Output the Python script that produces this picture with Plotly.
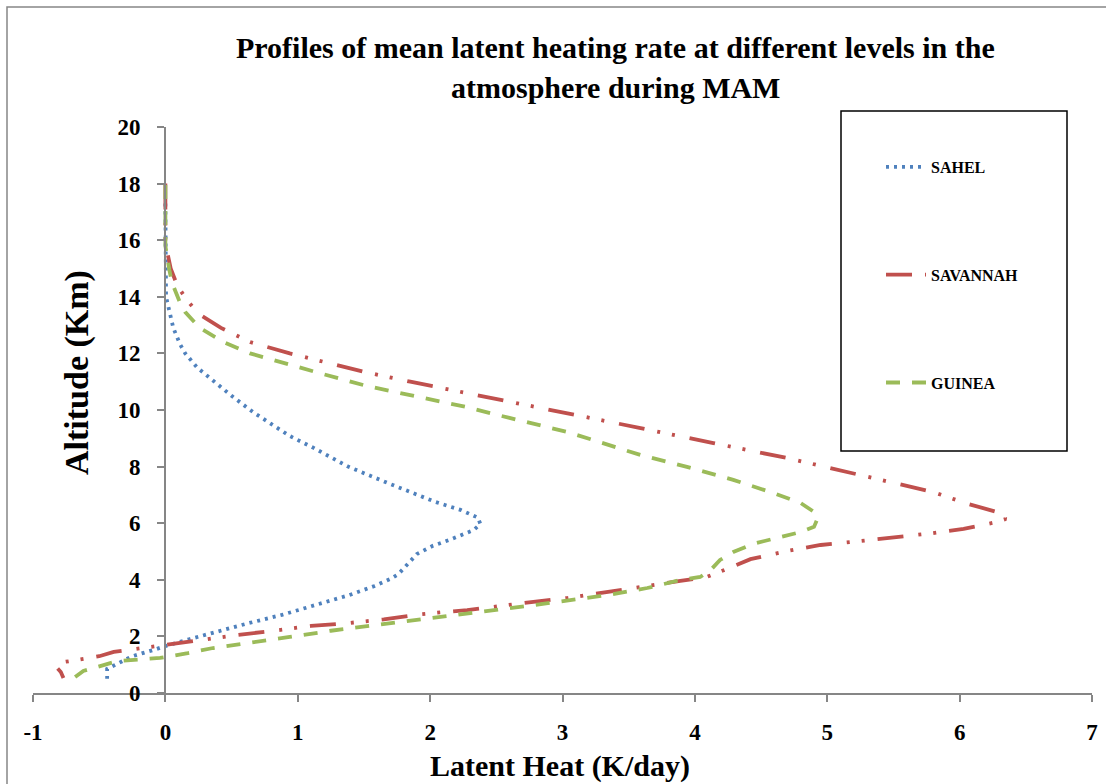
import plotly.graph_objects as go

# ---- data ----
sahel_alt = [17.3, 16.5, 15.5, 15.0, 14.5, 14.0, 13.6, 12.9, 12.33, 12.0, 11.5, 11.3, 10.5, 9.9, 9.08, 8.66,
             8.0, 7.42, 7.1, 6.75, 6.47, 6.2, 5.97, 5.76, 5.4, 5.2, 4.91, 4.66, 4.42, 4.2, 4.03, 3.78,
             3.46, 3.1, 2.76, 2.47, 2.16, 1.9, 1.63, 1.55, 1.3, 1.0, 0.85, 0.5]
sahel_lh = [0.0, 0.0, 0.0, 0.0, 0.003, 0.005, 0.025, 0.06, 0.11, 0.15, 0.24, 0.29, 0.5, 0.67, 0.94, 1.12,
            1.38, 1.68, 1.85, 2.04, 2.23, 2.36, 2.38, 2.33, 2.14, 2.02, 1.9, 1.85, 1.8, 1.76, 1.7, 1.58,
            1.39, 1.14, 0.88, 0.63, 0.37, 0.18, -0.02, -0.07, -0.25, -0.38, -0.44, -0.44]

savannah_alt = [18.0, 17.2, 15.9, 15.0, 14.4, 13.9, 13.4, 12.9, 12.4, 12.0, 11.7, 11.35, 11.0, 10.6, 10.35,
                10.1, 9.89, 9.36, 8.83, 8.3, 7.7, 7.1, 6.7, 6.4, 6.15, 6.04, 5.8, 5.65, 5.37, 5.23, 5.02,
                4.73, 4.38, 4.1, 3.96, 3.75, 3.53, 3.36, 3.22, 3.04, 2.93, 2.79, 2.6, 2.47, 2.37, 2.2,
                2.05, 1.87, 1.73, 1.63, 1.57, 1.45, 1.3, 1.2, 1.06, 0.95, 0.74, 0.53]
savannah_lh = [0.0, 0.0, 0.0, 0.04, 0.09, 0.16, 0.25, 0.42, 0.64, 0.94, 1.19, 1.5, 1.85, 2.28, 2.53,
               2.83, 3.04, 3.59, 4.14, 4.7, 5.25, 5.8, 6.05, 6.28, 6.35, 6.28, 6.03, 5.8, 5.25, 4.95, 4.7,
               4.42, 4.24, 4.09, 3.89, 3.59, 3.29, 3.04, 2.78, 2.5, 2.28, 1.94, 1.65, 1.38, 1.1, 0.82,
               0.54, 0.27, 0.05, -0.07, -0.21, -0.39, -0.5, -0.63, -0.81, -0.83, -0.79, -0.77]

guinea_alt = [17.95, 16.5, 15.8, 14.95, 14.5, 13.8, 13.46, 12.9, 12.4, 12.0, 11.66, 11.27, 10.85, 10.46,
              10.1, 9.8, 9.47, 9.22, 8.41, 7.99, 7.53, 7.07, 6.71, 6.4, 6.2, 5.87, 5.69, 5.48, 5.27, 4.98,
              4.7, 4.35, 4.1, 3.99, 3.71, 3.46, 3.22, 3.07, 2.95, 2.82, 2.69, 2.54, 2.37, 2.2, 1.98,
              1.73, 1.59, 1.41, 1.24, 1.13, 0.78, 0.5]
guinea_lh = [0.0, 0.0, 0.0, 0.03, 0.05, 0.11, 0.15, 0.26, 0.44, 0.64, 0.89, 1.19, 1.52, 1.9,
             2.28, 2.53, 2.81, 3.04, 3.59, 3.94, 4.29, 4.59, 4.8, 4.9, 4.93, 4.9, 4.8, 4.62, 4.44, 4.29,
             4.19, 4.12, 4.04, 3.89, 3.64, 3.34, 2.98, 2.73, 2.52, 2.3, 2.08, 1.85, 1.55, 1.25, 0.94,
             0.57, 0.36, 0.17, -0.04, -0.36, -0.62, -0.7]

x_ticks = [-1, 0, 1, 2, 3, 4, 5, 6, 7]
x_tick_text = ["-1", "0", "1", "2", "3", "4", "5", "6", "7"]
y_ticks = [0, 2, 4, 6, 8, 10, 12, 14, 16, 18, 20]

title_line1 = "Profiles of mean latent heating rate at different levels in the"
title_line2 = "atmosphere during MAM"
x_title = "Latent Heat (K/day)"
y_title = "Altitude (Km)"

FONT = "Liberation Serif"
W, H = 1106, 784
L, R, T, B = 33, 14, 127, 91
PW, PH = W - L - R, H - T - B


def px_x(px):
    return (px - L) / PW


def px_y(py):
    return (H - B - py) / PH


fig = go.Figure()
fig.add_trace(go.Scatter(x=sahel_lh, y=sahel_alt, mode="lines", name="SAHEL", legendgroup="a",
                         line=dict(color="#4F81BD", width=3.8, dash="3px,5px")))
fig.add_trace(go.Scatter(x=savannah_lh, y=savannah_alt, mode="lines", name="SAVANNAH", legendgroup="b",
                         line=dict(color="#C0504D", width=3.8, dash="26px,13px,3px,12px,3px,15px")))
fig.add_trace(go.Scatter(x=guinea_lh, y=guinea_alt, mode="lines", name="GUINEA", legendgroup="c",
                         line=dict(color="#9BBB59", width=3.8, dash="14px,12px")))

axis_grey = "#868686"
fig.update_layout(
    width=W, height=H,
    margin=dict(l=L, r=R, t=T, b=B, autoexpand=False),
    paper_bgcolor="white", plot_bgcolor="white",
    font=dict(family=FONT, color="black"),
    xaxis=dict(range=[-1, 7], tickvals=x_ticks, ticktext=x_tick_text, showgrid=False, zeroline=False,
               showline=True, linecolor=axis_grey, linewidth=2,
               ticks="outside", ticklen=7, tickwidth=2, tickcolor=axis_grey,
               tickfont=dict(family=FONT, size=23, color="black", weight="bold"),
               ticklabelstandoff=10),
    yaxis=dict(range=[0, 20], tickvals=y_ticks, showgrid=False, zeroline=False,
               anchor="free", position=px_x(165),
               showline=True, linecolor=axis_grey, linewidth=2,
               ticks="outside", ticklen=7, tickwidth=2, tickcolor=axis_grey,
               tickfont=dict(family=FONT, size=23, color="black", weight="bold"),
               ticklabelstandoff=12),
    showlegend=True,
    legend=dict(x=px_x(881), y=px_y(150), xanchor="left", yanchor="top",
                bgcolor="rgba(0,0,0,0)", borderwidth=0, tracegroupgap=84,
                itemwidth=40,
                font=dict(family=FONT, size=16, color="black", weight="bold")),
)

# legend box
fig.add_shape(type="rect", xref="paper", yref="paper",
              x0=px_x(841), x1=px_x(1067), y0=px_y(451), y1=px_y(111),
              line=dict(color="black", width=1.5), fillcolor="rgba(0,0,0,0)")
# chart area border
fig.add_shape(type="rect", xref="paper", yref="paper",
              x0=px_x(7), x1=px_x(1112), y0=px_y(790), y1=px_y(7),
              line=dict(color=axis_grey, width=1.5), fillcolor="rgba(0,0,0,0)")

fig.add_annotation(text=title_line1, xref="paper", yref="paper", x=px_x(615), y=px_y(48),
                   xanchor="center", yanchor="middle", showarrow=False,
                   font=dict(family=FONT, size=30, color="black", weight="bold"))
fig.add_annotation(text=title_line2, xref="paper", yref="paper", x=px_x(615), y=px_y(88),
                   xanchor="center", yanchor="middle", showarrow=False,
                   font=dict(family=FONT, size=30, color="black", weight="bold"))
fig.add_annotation(text=x_title, xref="paper", yref="paper", x=px_x(560), y=px_y(766),
                   xanchor="center", yanchor="middle", showarrow=False,
                   font=dict(family=FONT, size=30, color="black", weight="bold"))
fig.add_annotation(text=y_title, xref="paper", yref="paper", x=px_x(77), y=px_y(373),
                   xanchor="center", yanchor="middle", showarrow=False, textangle=-90,
                   font=dict(family=FONT, size=34, color="black", weight="bold"))

fig.write_html("out.html", config={"displayModeBar": False},
               post_script="document.body.style.margin='0';")
